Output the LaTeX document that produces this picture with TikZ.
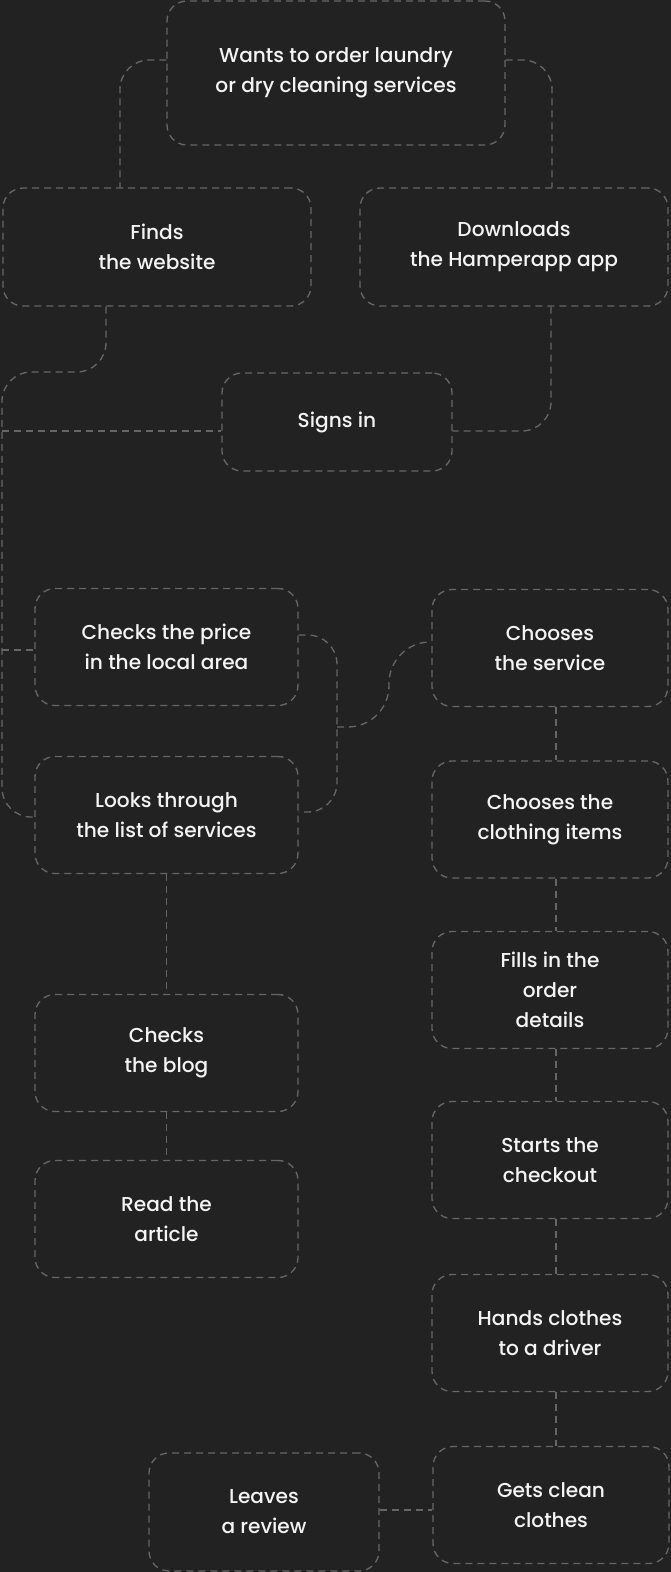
\documentclass[tikz,border=0pt]{standalone}
\usepackage{fontspec}
\IfFontExistsTF{Poppins Medium}{\setmainfont{Poppins Medium}\def\fsz{15.1}}{%
  \IfFontExistsTF{Poppins-Medium.ttf}{\setmainfont{Poppins-Medium.ttf}\def\fsz{15.1}}{%
    \setmainfont{Poppins}[FakeBold=0.5]\def\fsz{15.4}}}
\usetikzlibrary{calc}
\definecolor{bg}{HTML}{222222}
\definecolor{dashc}{HTML}{666666}
\definecolor{txt}{HTML}{F4F4F4}
\begin{document}
\begin{tikzpicture}[x=0.75pt,y=-0.75pt,
  box/.style={draw=dashc, line width=1pt, dash pattern=on 5.25pt off 3.75pt,
    rounded corners=15pt, text=txt, align=center, inner sep=0pt,
    font=\fontsize{\fsz}{22.5}\selectfont},
  lbox/.style={box, minimum width=197.25pt, minimum height=87.75pt},
  rbox/.style={box, minimum width=177pt, minimum height=87.75pt},
  conn/.style={draw=dashc, line width=1pt, dash pattern=on 5.25pt off 3.75pt}]
\fill[bg] (0,0) rectangle (671,1572);
\useasboundingbox (0,0) rectangle (671,1572);

\node[box, minimum width=253.5pt, minimum height=108pt] (want) at (336,73) {Wants to order laundry\\or dry cleaning services};
\node[box, minimum width=231pt, minimum height=88.5pt] (finds) at (157,247) {Finds\\the website};
\node[box, minimum width=231pt, minimum height=88.5pt] (down) at (514,247) {Downloads\\the Hamperapp app};
\node[box, minimum width=172.5pt, minimum height=73.5pt] (signs) at (337,422) {Signs in};
\node[lbox] (price) at (166.5,647) {Checks the price\\in the local area};
\node[lbox] (looks) at (166.5,815) {Looks through\\the list of services};
\node[lbox] (blog) at (166.5,1053) {Checks\\the blog};
\node[lbox] (article) at (166.5,1219) {Read the\\article};
\node[rbox] (service) at (550,648) {Chooses\\the service};
\node[rbox] (clothing) at (550,819.5) {Chooses the\\clothing items};
\node[rbox] (fills) at (550,990) {Fills in the\\order\\details};
\node[rbox] (checkout) at (550,1160) {Starts the\\checkout};
\node[rbox] (hands) at (550,1333) {Hands clothes\\to a driver};
\node[rbox] (gets) at (551,1505) {Gets clean\\clothes};
\node[box, minimum width=172.5pt, minimum height=88.5pt] (review) at (264,1512) {Leaves\\a review};

\coordinate (trunk) at (2,0);
\coordinate (spine) at (337,0);
\coordinate (sbr) at (389,0);
\coordinate (fb) at ([xshift=-38.25pt]finds.south);
\coordinate (sl) at ([yshift=-6.75pt]signs.west);
\coordinate (sr) at ([yshift=-6.75pt]signs.east);
\coordinate (pl) at ([yshift=-2.25pt]price.west);
\coordinate (pe) at ([yshift=9pt]price.east);
\coordinate (le) at ([yshift=2.25pt]looks.east);
\coordinate (lw) at ([yshift=-1.5pt]looks.west);
\coordinate (sw) at ([yshift=4.5pt]service.west);

\draw[conn, rounded corners=22pt] ([yshift=9.75pt]want.west) -| ([xshift=-27.75pt]finds.north);
\draw[conn, rounded corners=22pt] ([yshift=9.75pt]want.east) -| ([xshift=28.5pt]down.north);
\draw[conn, rounded corners=22pt] (fb) |- (trunk |- 0,372) -- (lw -| trunk) -- (lw);
\draw[conn] (sl -| trunk) -- (sl);
\draw[conn] (pl -| trunk) -- (pl);
\draw[conn, rounded corners=22pt] ([xshift=27.75pt]down.south) |- (sr);
\draw[conn, rounded corners=22pt] (pe) -- (pe -| spine) -- (le -| spine) -- (le);
\draw[conn, rounded corners=31pt] (spine |- 0,727) -- (sbr |- 0,727) -- (sbr |- sw) -- (sw);
\draw[conn] ([xshift=4.5pt]service.south) -- ([xshift=4.5pt]clothing.north);
\draw[conn] ([xshift=4.5pt]clothing.south) -- ([xshift=4.5pt]fills.north);
\draw[conn] ([xshift=4.5pt]fills.south) -- ([xshift=4.5pt]checkout.north);
\draw[conn] ([xshift=4.5pt]checkout.south) -- ([xshift=4.5pt]hands.north);
\draw[conn] ([xshift=4.5pt]hands.south) -- ([xshift=3.75pt]gets.north);
\draw[conn] (looks.south) -- (blog.north);
\draw[conn] (blog.south) -- (article.north);
\draw[conn] ([yshift=1.5pt]review.east) -- ([yshift=1.5pt]review.east -| gets.west);
\end{tikzpicture}
\end{document}
